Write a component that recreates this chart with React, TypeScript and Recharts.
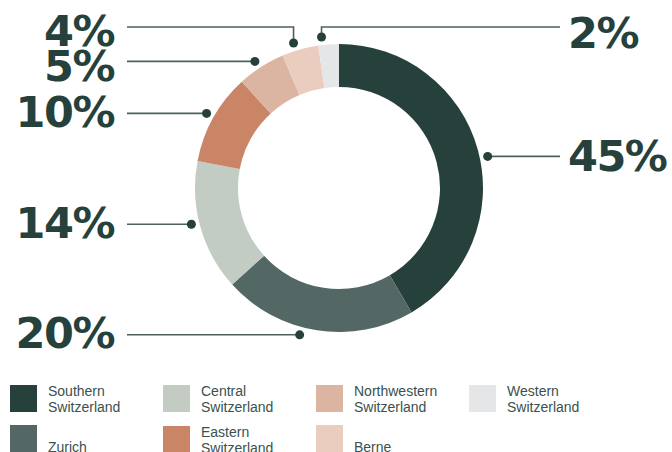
import React from "react"
import { PieChart, Pie, Cell } from "recharts"

const regions = [
  "Southern Switzerland",
  "Zurich",
  "Central Switzerland",
  "Eastern Switzerland",
  "Northwestern Switzerland",
  "Berne",
  "Western Switzerland",
]

// printed percentages
const shares = [45, 20, 14, 10, 5, 4, 2]

// the ring as it is drawn in the picture (slightly different from the printed numbers)
const arcShares = [41.6, 21.7, 14.7, 10.2, 5.4, 4.1, 2.3]

const colors = ["#26413c", "#536865", "#c3ccc3", "#c98566", "#dcb5a2", "#eacdbf", "#e5e6e8"]

const labelTexts = ["45%", "20%", "14%", "10%", "5%", "4%", "2%"]

// where each callout goes
const calloutSide = ["right", "left", "left", "left", "left", "left", "right"]
const calloutElbow = [false, false, false, false, false, true, true]
const textNudge = [0, -2, -1, -1, 5, 4, 6]

const ringData = regions.map((name, i) => ({ name, value: arcShares[i] }))
const labelData = regions.map((name, i) => ({ name, value: shares[i] }))

const RADIAN = Math.PI / 180
const INK = "#26413c"
const LINE = "#4d625e"
const FONT = "'Liberation Sans', Arial, sans-serif"

const renderCallout = (props: any) => {
  const { cx, cy, midAngle, outerRadius, index } = props
  const r = outerRadius + 8
  const dx = cx + r * Math.cos(-midAngle * RADIAN)
  const dy = cy + r * Math.sin(-midAngle * RADIAN)
  const right = calloutSide[index] === "right"
  const lineY = calloutElbow[index] ? cy - 161 : dy
  const endX = right ? cx + 221 : cx - 212
  const textX = right ? cx + 229 : cx - 225
  const points = calloutElbow[index]
    ? `${dx},${dy} ${dx},${lineY} ${endX},${lineY}`
    : `${dx},${dy} ${endX},${lineY}`
  return (
    <g key={`callout-${index}`}>
      <polyline points={points} fill="none" stroke={LINE} strokeWidth={1.6} />
      <circle cx={dx} cy={dy} r={4.5} fill={INK} />
      <text
        x={textX}
        y={lineY + textNudge[index]}
        textAnchor={right ? "start" : "end"}
        dominantBaseline="central"
        fill={INK}
        fontSize={43}
        fontWeight={700}
        letterSpacing={-1.5}
        fontFamily="'DejaVu Sans', sans-serif"
      >
        {labelTexts[index]}
      </text>
    </g>
  )
}

function Legend() {
  return (
    <div style={{ position: "absolute", left: 0, top: 0 }}>
      {regions.map((name, i) => {
        const col = Math.floor(i / 2)
        const row = i % 2
        const words = name.split(" ")
        return (
          <div
            key={name}
            style={{
              position: "absolute",
              left: 10 + col * 153,
              top: 384 + row * 41,
              display: "flex",
              alignItems: "flex-end",
              width: 150,
            }}
          >
            <div style={{ width: 27, height: 27, background: colors[i], flexShrink: 0 }} />
            <div
              style={{
                marginLeft: 11,
                marginBottom: -3,
                fontFamily: FONT,
                fontSize: 14,
                lineHeight: "15.5px",
                color: "#3b514d",
                whiteSpace: "nowrap",
              }}
            >
              {words.map((w) => (
                <div key={w}>{w}</div>
              ))}
            </div>
          </div>
        )
      })}
    </div>
  )
}

export default function App() {
  return (
    <div
      style={{
        position: "absolute",
        left: 0,
        top: 0,
        width: 672,
        height: 452,
        background: "#ffffff",
        overflow: "hidden",
      }}
    >
      <PieChart width={672} height={452} margin={{ top: 0, right: 0, bottom: 0, left: 0 }}>
        <Pie
          data={ringData}
          dataKey="value"
          nameKey="name"
          cx={339}
          cy={188}
          innerRadius={101}
          outerRadius={144}
          startAngle={90}
          endAngle={-270}
          stroke="none"
          isAnimationActive={false}
        >
          {ringData.map((d, i) => (
            <Cell key={d.name} fill={colors[i]} />
          ))}
        </Pie>
        <Pie
          data={labelData}
          dataKey="value"
          nameKey="name"
          cx={339}
          cy={188}
          innerRadius={101}
          outerRadius={144}
          startAngle={93}
          endAngle={-267}
          fill="none"
          stroke="none"
          label={renderCallout}
          labelLine={false}
          isAnimationActive={false}
        />
      </PieChart>
      <Legend />
    </div>
  )
}
